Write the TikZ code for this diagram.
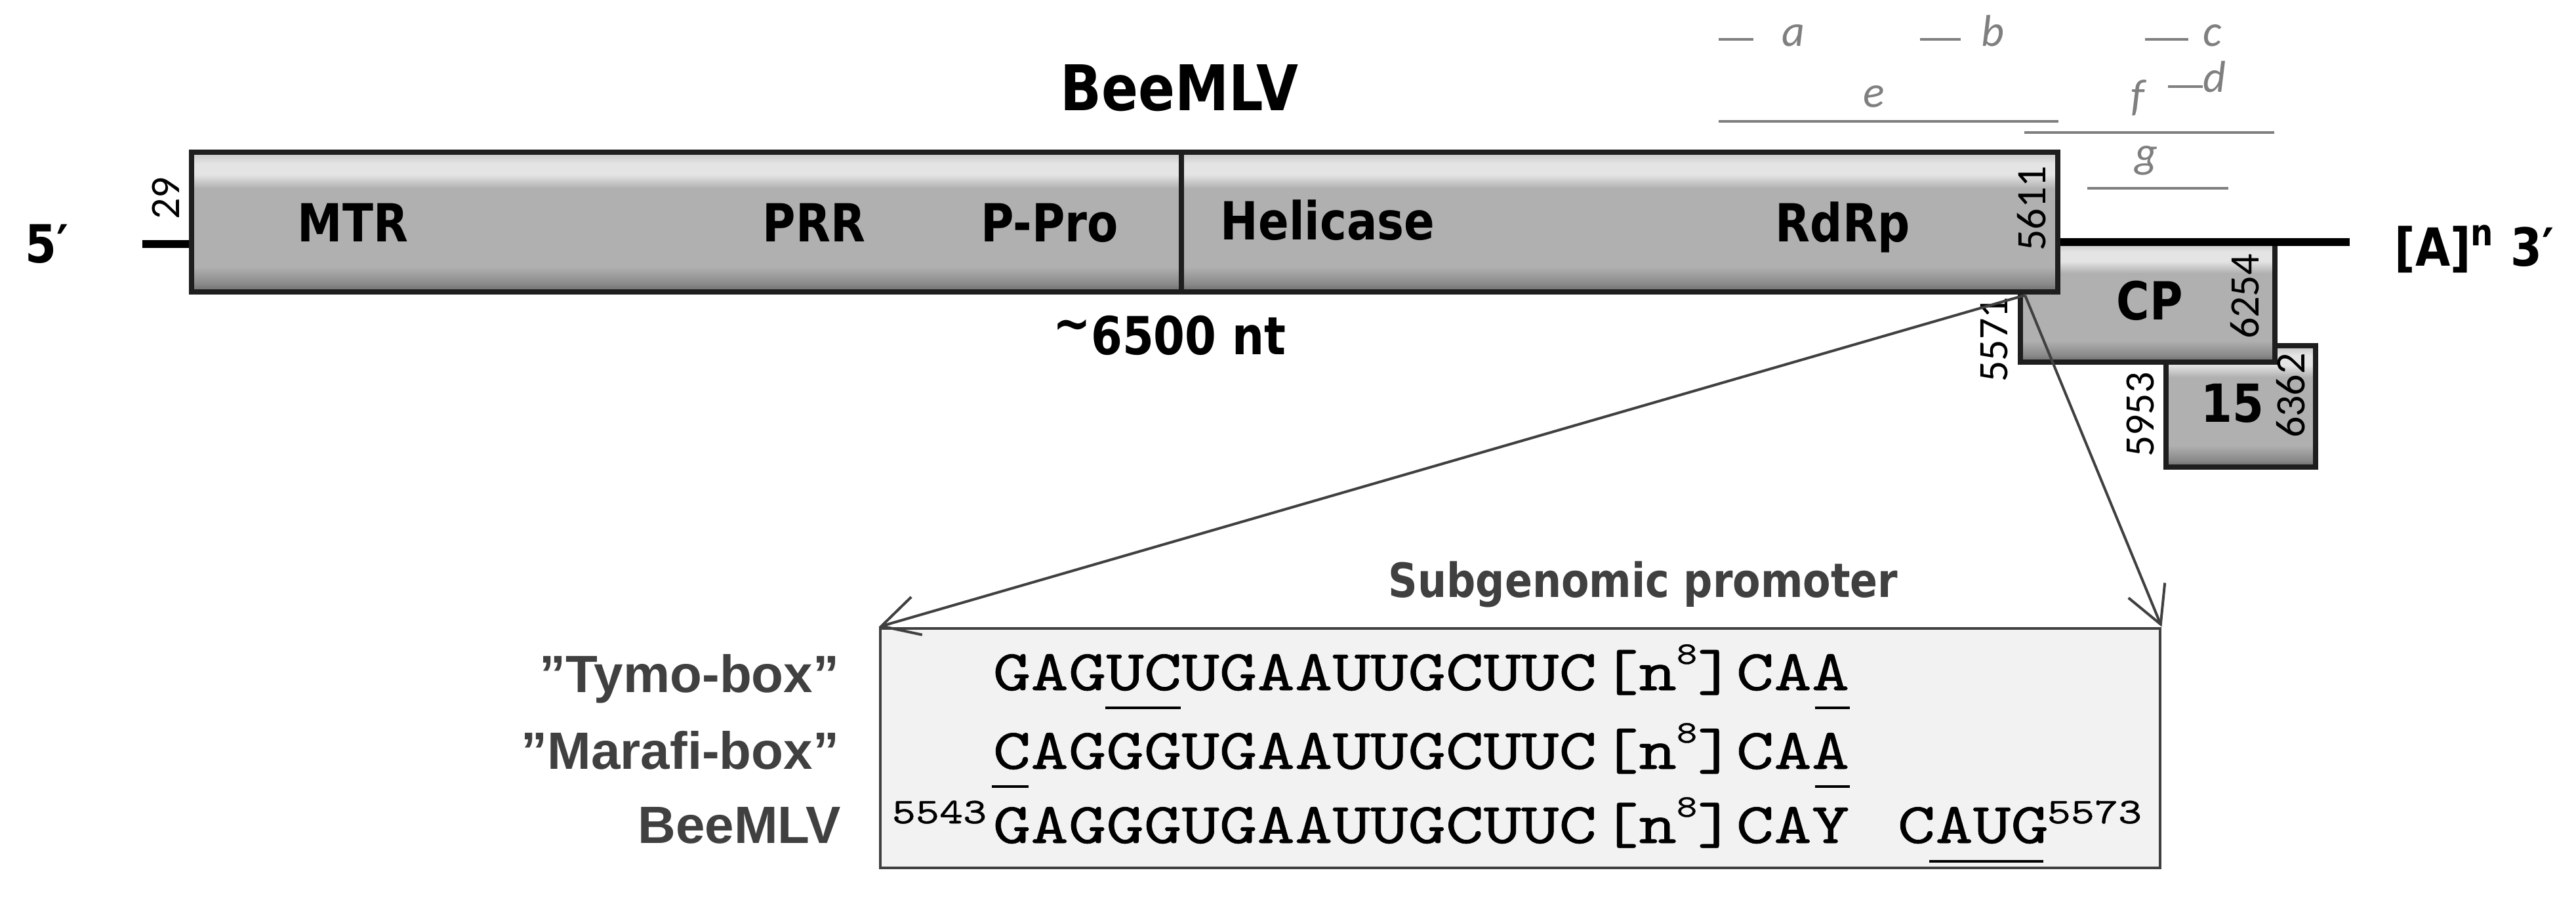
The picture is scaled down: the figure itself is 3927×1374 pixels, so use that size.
\documentclass[tikz,border=0pt]{standalone}
\usepackage{fontspec}
\setmainfont{Liberation Sans}
\newfontfamily\tahfont[FakeStretch=0.86]{DejaVu Sans}
\newfontfamily\seqfont[Extension=.otf, FakeStretch=1.245, FakeBold=0.8]{lmmono10-regular}
\newfontfamily\calfont{Carlito}
\usetikzlibrary{arrows.meta,fit}
\definecolor{boxedge}{HTML}{1E1E1E}
\definecolor{bvA}{HTML}{6A6A6A}
\definecolor{bvB}{HTML}{8A8A8A}
\definecolor{bvC}{HTML}{B0B0B0}
\definecolor{bvD}{HTML}{E4E4E4}
\definecolor{bvE}{HTML}{C4C4C4}
\definecolor{dkgray}{HTML}{404040}
\definecolor{anngray}{HTML}{7F7F7F}
\definecolor{seqfill}{HTML}{F2F2F2}
\pgfdeclareverticalshading{bevel}{100bp}{color(0bp)=(bvA); color(25bp)=(bvA); color(28bp)=(bvB); color(34bp)=(bvC); color(62bp)=(bvC); color(67bp)=(bvD); color(71bp)=(bvD); color(75bp)=(bvE); color(100bp)=(bvE)}
\begin{document}
\begin{tikzpicture}[x=0.25pt,y=-0.25pt,
  gbox/.style={rectangle, shade, shading=bevel, draw=boxedge, line width=2pt, inner sep=0pt},
  lbl/.style={font={\tahfont\bfseries\fontsize{20}{24}\selectfont}, inner sep=0pt},
  ttl/.style={font={\tahfont\bfseries\fontsize{24}{28}\selectfont}, inner sep=0pt},
  num/.style={font={\calfont\fontsize{16}{18}\selectfont}, inner sep=0pt, rotate=90},
  annt/.style={font={\calfont\itshape\fontsize{17}{20}\selectfont}, text=anngray, inner sep=0pt},
  annl/.style={draw=anngray, line width=1pt},
  rna/.style={draw=black, line width=3pt},
  seqlbl/.style={font={\bfseries\fontsize{20}{24}\selectfont}, text=dkgray, inner sep=0pt, anchor=base east},
  seqtxt/.style={font={\seqfont\fontsize{22}{26}\selectfont}, inner sep=0pt, anchor=base west},
  seqsup/.style={font={\seqfont\fontsize{13.8}{16}\selectfont}, inner sep=0pt},
  uline/.style={draw=black, line width=1.2pt},
  arr/.style={draw=dkgray, line width=1pt, -{Straight Barb[length=14pt,width=15pt]}},
  seqbox/.style={rectangle, fill=seqfill, draw=dkgray, line width=1.2pt, inner sep=0pt}
]
\fill[white] (0,0) rectangle (3927,1374);
\useasboundingbox (0,0) rectangle (3927,1374);

% annotation fragments a-g
\draw[annl] (2620,60) -- (2673,60);
\node[annt, anchor=base west] (la) at (2716,70) {a};
\draw[annl] (2927,60) -- (2989,60);
\node[annt, anchor=base west] (lb) at (3020,70) {b};
\draw[annl] (3270,60) -- (3336,60);
\node[annt, anchor=base west] (lc) at (3358,70) {c};
\draw[annl] (3305,132) -- (3358,132);
\node[annt, anchor=base west] (ld) at (3358,140) {d};
\node[annt, anchor=base] (le) at (2857,163) {e};
\node[annt, anchor=base] (lf) at (3259,168) {f};
\node[annt, anchor=base] (lg) at (3272,255) {g};
\draw[annl] (2620,185) -- (3138,185);
\draw[annl] (3086,202) -- (3467,202);
\draw[annl] (3182,287) -- (3397,287);

% title
\node[ttl, anchor=base] (title) at (1798,168) {BeeMLV};

% subgenomic ORFs
\node[gbox, fit={(3302,527) (3530,712)}] (orf15) {};
\node[gbox, fit={(3080,369) (3468,552)}] (cpbox) {};
\coordinate (l3a) at (3120,369);
\coordinate (l3b) at (3582,369);
\draw[rna] (l3a) -- (l3b);
\coordinate (l5) at (217,372);

% main ORF
\node[gbox, fit={(292,232) (1801,445)}] (orfa) {};
\node[gbox, fit={(1801,232) (3137,445)}] (orfb) {};
\draw[rna] (l5) -- (l5 -| orfa.west);

% domain labels
\node[lbl, anchor=base] (mtr) at (538,368) {MTR};
\node[lbl, anchor=base] (prr) at (1241,368) {PRR};
\node[lbl, anchor=base] (ppro) at (1600,368) {P-Pro};
\node[lbl, anchor=base west] (hel) at (1860,365) {Helicase};
\node[lbl, anchor=base] (rdrp) at (2809,368) {RdRp};
\node[lbl, anchor=base] (cp) at (3277,487) {CP};
\node[lbl, anchor=base] (p15) at (3403,643) {15};
\node[lbl, anchor=base] (len) at (1783,540) {\raisebox{5pt}{\textasciitilde}6500 nt};
\node[lbl, anchor=base west] (five) at (38,400) {5′};
\node[lbl, anchor=base west] (three) at (3650,405) {[A]\textsuperscript{n} 3′};

% coordinates
\node[num] (n29) at (253,302) {29};
\node[num] (n5611) at (3097,318) {5611};
\node[num] (n5571) at (3040,518) {5571};
\node[num] (n6254) at (3422,452) {6254};
\node[num] (n5953) at (3263,632) {5953};
\node[num] (n6362) at (3492,603) {6362};

% promoter box
\node[seqbox, fit={(1342,958) (3293,1323)}] (seq) {};
\coordinate (sp) at (3087,450);
\draw[arr] (sp) -- (seq.north west);
\draw[arr] (sp) -- (seq.north east);
\node[lbl, anchor=base, text=dkgray, font={\tahfont\bfseries\fontsize{18}{22}\selectfont}] (sgp) at (2505,910) {Subgenomic promoter};

\node[seqlbl] (ty) at (1280,1055) {”Tymo-box”};
\node[seqlbl] (ma) at (1280,1172) {”Marafi-box”};
\node[seqlbl] (be) at (1283,1285) {BeeMLV};

\node[seqtxt] (s1a) at (1513,1052) {GAGUCUGAAUUGCUUC};
\node[seqtxt] (s1b) at (2440,1052) {[n\raisebox{10pt}{\fontsize{12}{14}\selectfont 8}]};
\node[seqtxt] (s1c) at (2646,1052) {CAA};
\node[seqtxt] (s2a) at (1513,1172) {CAGGGUGAAUUGCUUC};
\node[seqtxt] (s2b) at (2440,1172) {[n\raisebox{10pt}{\fontsize{12}{14}\selectfont 8}]};
\node[seqtxt] (s2c) at (2646,1172) {CAA};
\node[seqsup, anchor=base east] (p5543) at (1505,1255) {5543};
\node[seqtxt] (s3a) at (1513,1285) {GAGGGUGAAUUGCUUC};
\node[seqtxt] (s3b) at (2440,1285) {[n\raisebox{10pt}{\fontsize{12}{14}\selectfont 8}]};
\node[seqtxt] (s3c) at (2646,1285) {CAY};
\node[seqtxt] (s3d) at (2892,1285) {CAUG};
\node[seqsup, anchor=base west] (p5573) at (3120,1255) {5573};

\draw[uline] (1685,1079) -- (1800,1079);
\draw[uline] (2767,1079) -- (2820,1079);
\draw[uline] (1512,1199) -- (1568,1199);
\draw[uline] (2767,1199) -- (2820,1199);
\draw[uline] (2941,1313) -- (3115,1313);
\end{tikzpicture}
\end{document}
